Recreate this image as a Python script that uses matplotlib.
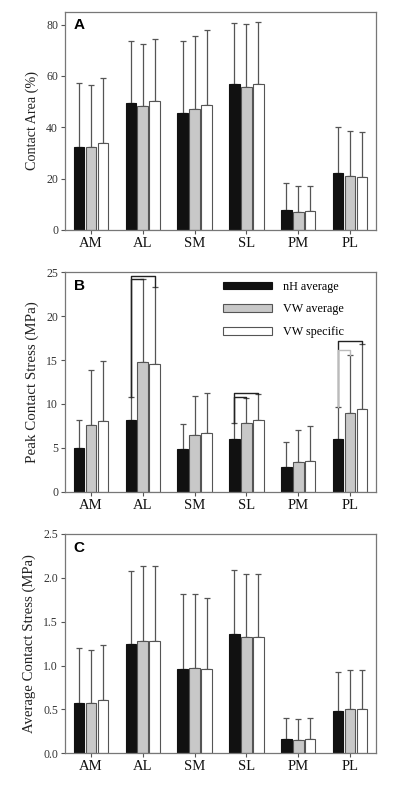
import matplotlib
matplotlib.use("Agg")
import matplotlib.pyplot as plt
import numpy as np

regions = ["AM", "AL", "SM", "SL", "PM", "PL"]
series = ["nH average", "VW average", "VW specific"]

# A - contact area (%), means and SD
area_nh = [32.2, 49.4, 45.5, 56.8, 7.7, 22.3]
area_vwa = [32.2, 48.3, 47.0, 55.8, 7.1, 21.2]
area_vws = [33.8, 50.1, 48.8, 57.0, 7.4, 20.8]
area_nh_sd = [24.9, 24.2, 28.1, 23.7, 10.7, 17.8]
area_vwa_sd = [24.2, 24.0, 28.6, 24.5, 10.2, 17.5]
area_vws_sd = [25.3, 24.2, 28.9, 24.0, 9.9, 17.4]

# B - peak contact stress (MPa)
peak_nh = [5.0, 8.2, 4.86, 5.97, 2.77, 5.97]
peak_vwa = [7.56, 14.74, 6.42, 7.83, 3.38, 8.93]
peak_vws = [8.05, 14.5, 6.65, 8.17, 3.5, 9.42]
peak_nh_sd = [3.2, 2.6, 2.81, 1.89, 2.89, 3.72]
peak_vwa_sd = [6.34, 9.46, 4.48, 2.85, 3.65, 6.67]
peak_vws_sd = [6.81, 8.8, 4.65, 3.0, 4.02, 7.38]

# C - average contact stress (MPa)
avg_nh = [0.578, 1.25, 0.965, 1.364, 0.16, 0.486]
avg_vwa = [0.578, 1.284, 0.976, 1.33, 0.152, 0.505]
avg_vws = [0.604, 1.277, 0.965, 1.33, 0.16, 0.502]
avg_nh_sd = [0.627, 0.825, 0.851, 0.722, 0.24, 0.437]
avg_vwa_sd = [0.602, 0.856, 0.84, 0.714, 0.236, 0.441]
avg_vws_sd = [0.627, 0.863, 0.809, 0.714, 0.243, 0.444]

# significance brackets in B: (region index, compared series index, height)
brk_region = [1, 1, 3, 3, 5, 5]
brk_target = [2, 1, 2, 1, 2, 1]
brk_height = [24.6, 24.25, 11.3, 10.8, 17.2, 16.1]
brk_color = ["#222222", "#222222", "#222222", "#222222", "#222222", "#bbbbbb"]

fills = ["#111111", "#c8c8c8", "white"]
edges = ["#111111", "#555555", "#555555"]
serif = "Liberation Serif"

fig = plt.figure(figsize=(4, 7.86), dpi=100)
H = 786.0
L, W = 65 / 400, 311 / 400
ax_a = fig.add_axes([L, 1 - 230 / H, W, 218.3 / H])
ax_b = fig.add_axes([L, 1 - 491.7 / H, W, 219.4 / H])
ax_c = fig.add_axes([L, 1 - 753.3 / H, W, 219.3 / H])

x = np.arange(len(regions))
offs = [-0.23, 0.0, 0.23]
bw = 0.205

panels = [
    (ax_a, [area_nh, area_vwa, area_vws], [area_nh_sd, area_vwa_sd, area_vws_sd],
     (0, 85), [0, 20, 40, 60, 80], "Contact Area (%)", 10.2, "A", "%d"),
    (ax_b, [peak_nh, peak_vwa, peak_vws], [peak_nh_sd, peak_vwa_sd, peak_vws_sd],
     (0, 25), [0, 5, 10, 15, 20, 25], "Peak Contact Stress (MPa)", 10.8, "B", "%d"),
    (ax_c, [avg_nh, avg_vwa, avg_vws], [avg_nh_sd, avg_vwa_sd, avg_vws_sd],
     (0, 2.5), [0, 0.5, 1.0, 1.5, 2.0, 2.5], "Average Contact Stress (MPa)", 10.6, "C", "%.1f"),
]

for ax, means, sds, ylim, yt, ylab, ylfs, tag, fmt in panels:
    for i in range(3):
        ax.bar(x + offs[i], means[i], bw, color=fills[i], edgecolor=edges[i],
               linewidth=0.8, label=series[i], zorder=2)
        ax.errorbar(x + offs[i], means[i], yerr=[np.zeros(len(x)), sds[i]], fmt="none",
                    ecolor="#555555", elinewidth=0.9, capsize=2.5, capthick=0.9, zorder=1)
    ax.set_xlim(-0.5, 5.5)
    ax.set_ylim(*ylim)
    ax.set_yticks(yt)
    ax.set_yticklabels([fmt % v for v in yt], fontfamily=serif, fontsize=8.5, color="#333333")
    ax.set_xticks(x)
    ax.set_xticklabels(regions, fontfamily=serif, fontsize=10.5, color="#111111")
    ax.set_ylabel(ylab, fontfamily=serif, fontsize=ylfs, color="#222222", labelpad=5)
    ax.tick_params(direction="out", length=3, width=0.8, color="#555555", pad=2)
    for s in ax.spines.values():
        s.set_color("#777777")
        s.set_linewidth(0.9)
    ax.text(0.028, 0.97, tag, transform=ax.transAxes, fontsize=11, fontweight="bold",
            family="Liberation Sans", va="top", ha="left")

# brackets
b_means = [peak_nh, peak_vwa, peak_vws]
b_sds = [peak_nh_sd, peak_vwa_sd, peak_vws_sd]
for r, t, h, c in zip(brk_region, brk_target, brk_height, brk_color):
    x0 = x[r] + offs[0]
    x1 = x[r] + offs[t]
    y0 = b_means[0][r] + b_sds[0][r]
    y1 = b_means[t][r] + b_sds[t][r]
    ax_b.plot([x0, x0, x1, x1], [y0, h, h, y1], color=c, lw=1.0, zorder=3,
              clip_on=False)

leg = ax_b.legend(loc="upper left", bbox_to_anchor=(0.49, 0.99), frameon=False,
                  handlelength=4.0, handleheight=0.55, labelspacing=0.9,
                  handletextpad=0.9, borderpad=0,
                  prop={"family": serif, "size": 8.7})

fig.savefig("out.png", dpi=100)
